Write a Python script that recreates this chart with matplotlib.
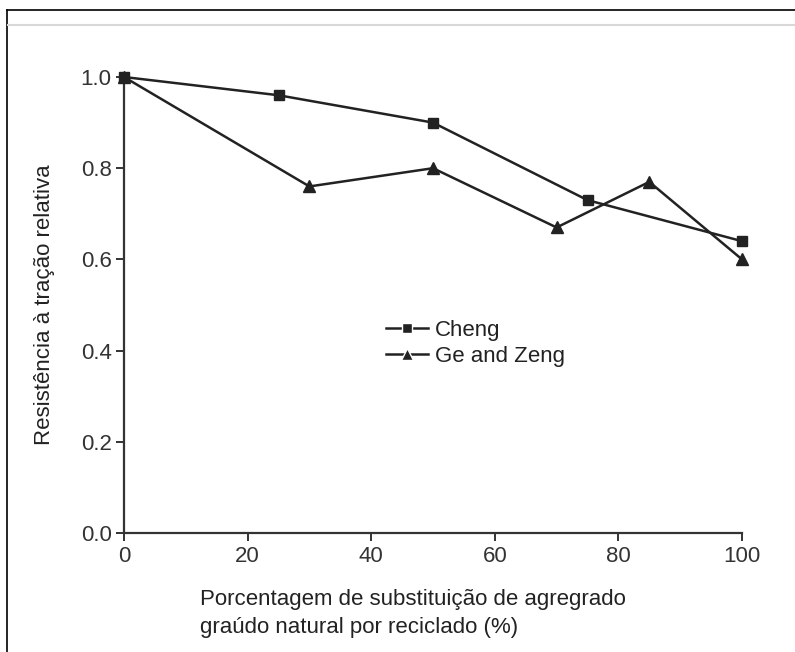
import matplotlib
matplotlib.use("Agg")
import matplotlib.pyplot as plt
from matplotlib.lines import Line2D

plt.rcParams['font.family'] = ['Liberation Sans', 'DejaVu Sans']

# relative tensile strength vs. replacement ratio
cheng_x = [0, 25, 50, 75, 100]
cheng_y = [1.0, 0.96, 0.90, 0.73, 0.64]

ge_x = [0, 30, 50, 70, 85, 100]
ge_y = [1.0, 0.76, 0.80, 0.67, 0.77, 0.60]

x_ticks = [0, 20, 40, 60, 80, 100]
y_ticks = [0.0, 0.2, 0.4, 0.6, 0.8, 1.0]

W, H = 795, 652
fig = plt.figure(figsize=(W / 100, H / 100), dpi=100)
fig.patch.set_facecolor('white')

# outer frame lines
fig.add_artist(Line2D([7 / W, 1], [1 - 10 / H, 1 - 10 / H], color='black', lw=1.2))
fig.add_artist(Line2D([7 / W, 7 / W], [0, 1 - 10 / H], color='black', lw=1.2))
fig.add_artist(Line2D([8 / W, 1], [1 - 25 / H, 1 - 25 / H], color='#d8d8d8', lw=1.5))

ax = fig.add_axes([124 / W, 1 - 533 / H, (742 - 124) / W, (533 - 77) / H])

line_col = '#222222'
ax.plot(cheng_x, cheng_y, color=line_col, lw=1.8, marker='s', ms=7,
        mfc=line_col, mec=line_col, clip_on=False, zorder=3, label='Cheng')
ax.plot(ge_x, ge_y, color=line_col, lw=1.8, marker='^', ms=9,
        mfc=line_col, mec=line_col, clip_on=False, zorder=3, label='Ge and Zeng')

ax.set_xlim(0, 100)
ax.set_ylim(0, 1.0)
ax.set_xticks(x_ticks)
ax.set_yticks(y_ticks)
ax.set_yticklabels(['%.1f' % v for v in y_ticks])

for s in ['top', 'right']:
    ax.spines[s].set_visible(False)
for s in ['left', 'bottom']:
    ax.spines[s].set_color('#333333')
    ax.spines[s].set_linewidth(1.6)

ax.tick_params(axis='both', direction='out', length=6, width=1.4,
               color='#333333', labelsize=16, labelcolor='#333333')
ax.tick_params(axis='y', pad=3)
ax.tick_params(axis='x', pad=3)

ax.set_ylabel('Resistência à tração relativa', fontsize=16, color='#222222', labelpad=18)

fig.text(200 / W, 1 - 600 / H, 'Porcentagem de substituição de agregrado',
         fontsize=16, color='#222222', ha='left', va='center')
fig.text(200 / W, 1 - 628 / H, 'graúdo natural por reciclado (%)',
         fontsize=16, color='#222222', ha='left', va='center')

leg = ax.legend(loc='upper left', bbox_to_anchor=(0.392, 0.512), frameon=False,
                fontsize=16, handlelength=1.9, handletextpad=0.3,
                labelspacing=0.25, markerscale=1.0)
for t in leg.get_texts():
    t.set_color('#222222')
for h in leg.legend_handles:
    h.set_markeredgecolor('white')
    h.set_markeredgewidth(1.0)

fig.savefig('out.png', dpi=100, facecolor='white')
